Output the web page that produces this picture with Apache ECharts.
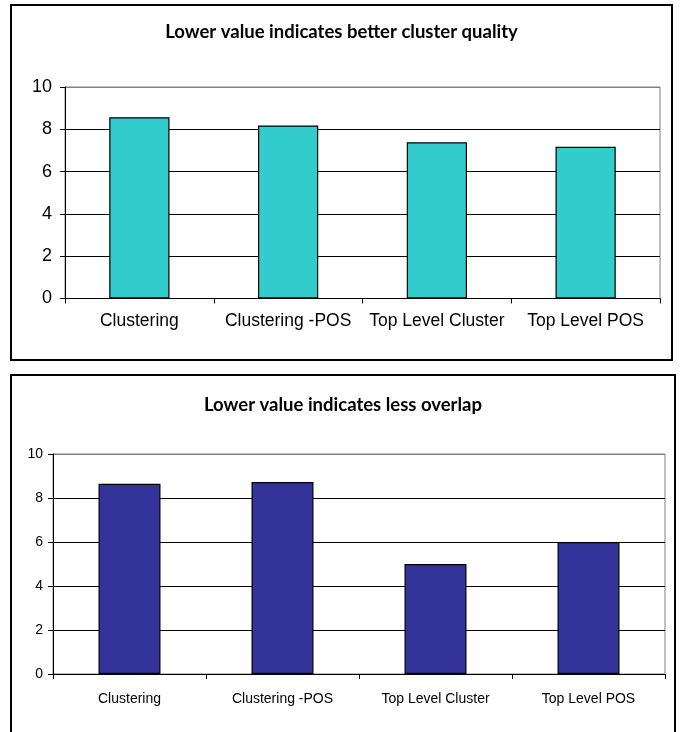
<!DOCTYPE html>
<html><head><meta charset="utf-8">
<script src="https://cdn.jsdelivr.net/npm/echarts@6/dist/echarts.min.js"></script>
<style>
html,body{margin:0;padding:0;background:#fff;width:680px;height:732px;overflow:hidden;position:relative}
.frame{position:absolute;box-sizing:border-box;border:2px solid #000;background:#fff}
.chart{width:100%;height:100%}
</style></head><body>
<div class="frame" style="left:10px;top:4px;width:663px;height:357px"><div id="c1" class="chart"></div></div>
<div class="frame" style="left:10px;top:374px;width:666px;height:370px"><div id="c2" class="chart"></div></div>
<script>
const categories = ['Clustering', 'Clustering -POS', 'Top Level Cluster', 'Top Level POS'];
const qualityValues = [8.57, 8.18, 7.39, 7.17];
const overlapValues = [8.65, 8.73, 5.0, 6.0];
const yMin = 0, yMax = 10, yStep = 2;
const titles = ['Lower value indicates better cluster quality', 'Lower value indicates less overlap'];

function makeOption(cfg) {
  return {
    animation: false,
    title: {
      text: cfg.title, left: 'center', top: cfg.titleTop,
      textStyle: { fontFamily: 'Lato, "Open Sans", sans-serif', fontWeight: 'bold', fontSize: 18.5, color: '#000' }
    },
    grid: {
      left: cfg.grid[0], top: cfg.grid[1], width: cfg.grid[2], height: cfg.grid[3],
      show: true, borderColor: '#808080', borderWidth: 1, backgroundColor: 'transparent'
    },
    xAxis: {
      type: 'category', data: categories,
      axisLine: { lineStyle: { color: '#000', width: 1 } },
      axisTick: { show: true, length: 5, lineStyle: { color: '#000' } },
      axisLabel: { color: '#000', fontSize: cfg.xFont, fontFamily: '"Liberation Sans", Arial, sans-serif', margin: cfg.xMargin, interval: 0 },
      splitLine: { show: false }
    },
    yAxis: {
      type: 'value', min: yMin, max: yMax, interval: yStep,
      axisLine: { show: true, lineStyle: { color: '#000', width: 1 } },
      axisTick: { show: true, length: 5, lineStyle: { color: '#000' } },
      axisLabel: { color: '#000', fontSize: cfg.yFont, fontFamily: '"Liberation Sans", Arial, sans-serif', margin: cfg.yMargin },
      splitLine: { show: true, lineStyle: { color: ['#000', '#000', '#000', '#000', '#000', '#808080'], width: 1.2 } }
    },
    series: [{
      type: 'bar', data: cfg.values, barWidth: '40.5%',
      itemStyle: { color: cfg.color, borderColor: '#000', borderWidth: 1.2 }
    }]
  };
}

const c1 = echarts.init(document.getElementById('c1'), null, { renderer: 'canvas' });
c1.setOption(makeOption({
  title: titles[0], titleTop: 12, grid: [53, 81, 595, 211.5],
  xFont: 17.5, xMargin: 14, yFont: 18, yMargin: 13, values: qualityValues, color: '#33CCCC'
}));
const c2 = echarts.init(document.getElementById('c2'), null, { renderer: 'canvas' });
c2.setOption(makeOption({
  title: titles[1], titleTop: 15, grid: [41, 78, 612, 220],
  xFont: 14, xMargin: 18, yFont: 14, yMargin: 10, values: overlapValues, color: '#333399'
}));
</script>
</body></html>
